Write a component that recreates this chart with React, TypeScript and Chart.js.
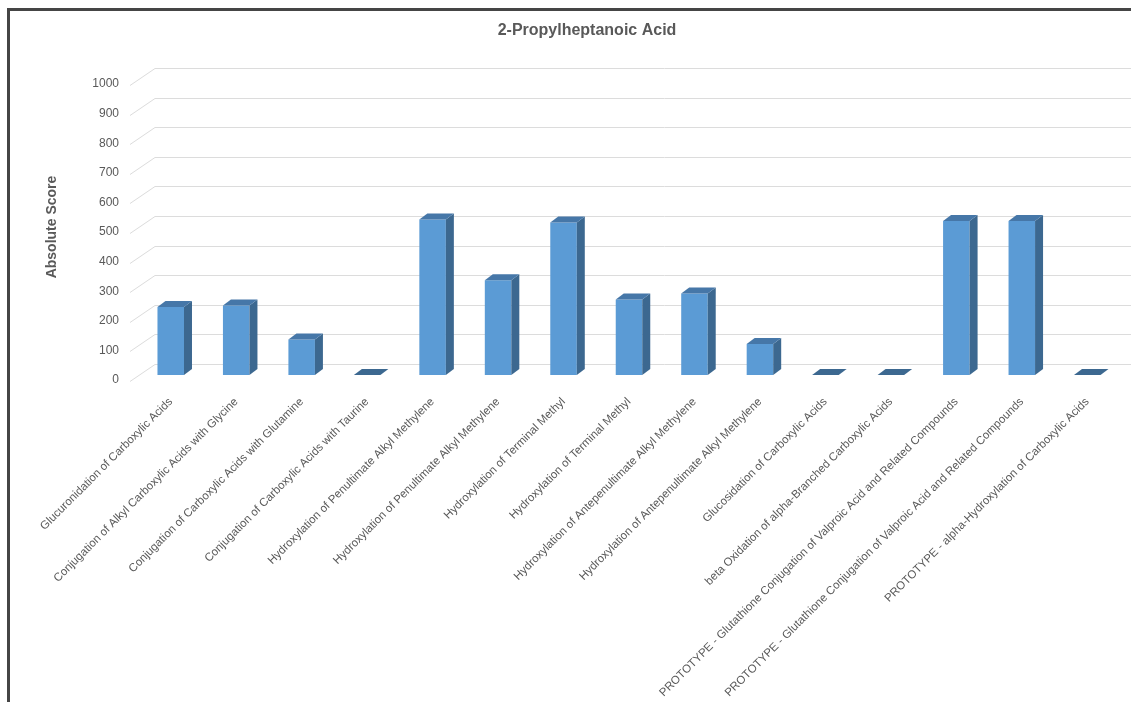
import { useEffect, useRef } from "react";
import { Chart, registerables } from "chart.js";

Chart.register(...registerables);

const chartTitle = "2-Propylheptanoic Acid";
const axisTitle = "Absolute Score";

const categories = [
  "Glucuronidation of Carboxylic Acids",
  "Conjugation of Alkyl Carboxylic Acids with Glycine",
  "Conjugation of Carboxylic Acids with Glutamine",
  "Conjugation of Carboxylic Acids with Taurine",
  "Hydroxylation of Penultimate Alkyl Methylene",
  "Hydroxylation of Penultimate Alkyl Methylene",
  "Hydroxylation of Terminal Methyl",
  "Hydroxylation of Terminal Methyl",
  "Hydroxylation of Antepenultimate Alkyl Methylene",
  "Hydroxylation of Antepenultimate Alkyl Methylene",
  "Glucosidation of Carboxylic Acids",
  "beta Oxidation of alpha-Branched Carboxylic Acids",
  "PROTOTYPE - Glutathione Conjugation of Valproic Acid and Related Compounds",
  "PROTOTYPE - Glutathione Conjugation of Valproic Acid and Related Compounds",
  "PROTOTYPE - alpha-Hydroxylation of Carboxylic Acids",
];

const scores = [230, 235, 120, 0, 525, 320, 515, 255, 275, 105, 0, 0, 520, 520, 0];

const scoreMin = 0;
const scoreMax = 1000;
const scoreStep = 100;

const CANVAS_W = 1174;
const CANVAS_H = 800;

// Pseudo-3D geometry: bar depth and back-wall offsets, in pixels
const DEPTH_X = 8;
const DEPTH_Y = 6;
const WALL_X = 17;
const WALL_Y = 11;
const FRONT_X = 8;
const FRONT_Y = 6;

const FRONT_COLOR = "#5b9bd5";
const SIDE_COLOR = "#3c6890";
const TOP_COLOR = "#4677a8";
const TEXT_COLOR = "#595959";
const FONT = "'Liberation Sans', Arial, sans-serif";

const frame = {
  id: "frame",
  beforeDraw(chart: any) {
    const { ctx } = chart;
    ctx.save();
    ctx.fillStyle = "#ffffff";
    ctx.fillRect(0, 0, chart.width, chart.height);
    ctx.fillStyle = "#454545";
    ctx.fillRect(7, 8, 3, chart.height);
    ctx.fillRect(7, 8, chart.width, 3);
    ctx.restore();
  },
};

const wall = {
  id: "wall",
  beforeDatasetsDraw(chart: any) {
    const { ctx, chartArea } = chart;
    const y = chart.scales.y;
    ctx.save();
    ctx.strokeStyle = "#dcdcdc";
    ctx.lineWidth = 1;
    for (const t of y.ticks) {
      const py = Math.round(y.getPixelForValue(t.value)) + 0.5;
      ctx.beginPath();
      ctx.moveTo(chartArea.left - FRONT_X, py + FRONT_Y);
      ctx.lineTo(chartArea.left + WALL_X, py - WALL_Y);
      ctx.lineTo(chart.width, py - WALL_Y);
      ctx.stroke();
    }
    ctx.restore();
  },
};

const columnDepth = {
  id: "columnDepth",
  afterDatasetsDraw(chart: any) {
    const { ctx } = chart;
    const meta = chart.getDatasetMeta(0);
    ctx.save();
    for (const bar of meta.data) {
      const { x, y, base, width } = bar.getProps(["x", "y", "base", "width"], true);
      const left = x - width / 2;
      const right = x + width / 2;
      // side face
      if (base - y > 0.5) {
        ctx.fillStyle = SIDE_COLOR;
        ctx.beginPath();
        ctx.moveTo(right, y);
        ctx.lineTo(right + DEPTH_X, y - DEPTH_Y);
        ctx.lineTo(right + DEPTH_X, base - DEPTH_Y);
        ctx.lineTo(right, base);
        ctx.closePath();
        ctx.fill();
      }
      // top face
      ctx.fillStyle = base - y > 0.5 ? TOP_COLOR : SIDE_COLOR;
      ctx.beginPath();
      ctx.moveTo(left, y);
      ctx.lineTo(left + DEPTH_X, y - DEPTH_Y);
      ctx.lineTo(right + DEPTH_X, y - DEPTH_Y);
      ctx.lineTo(right, y);
      ctx.closePath();
      ctx.fill();
    }
    ctx.restore();
  },
};

export default function App() {
  const canvasRef = useRef<HTMLCanvasElement | null>(null);

  useEffect(() => {
    if (!canvasRef.current) return;
    const chart = new Chart(canvasRef.current, {
      type: "bar",
      data: {
        labels: categories,
        datasets: [
          {
            label: axisTitle,
            data: scores,
            backgroundColor: FRONT_COLOR,
            borderWidth: 0,
            barPercentage: 0.405,
            categoryPercentage: 1,
          },
        ],
      },
      options: {
        responsive: false,
        animation: false,
        devicePixelRatio: 1,
        layout: { padding: { left: 0, right: 0, top: 0, bottom: 0 } },
        plugins: {
          legend: { display: false },
          tooltip: { enabled: false },
          title: {
            display: true,
            text: chartTitle,
            color: TEXT_COLOR,
            font: { family: FONT, size: 16, weight: "bold" },
            padding: { top: 21, bottom: 38.8 },
          },
        },
        scales: {
          x: {
            grid: { display: false },
            border: { display: false },
            ticks: {
              autoSkip: false,
              minRotation: 45,
              maxRotation: 45,
              padding: 12,
              color: TEXT_COLOR,
              font: { family: FONT, size: 11.5 },
            },
            afterFit(s: any) {
              s.height = CANVAS_H - 375;
            },
          },
          y: {
            min: scoreMin,
            max: scoreMax,
            grid: { display: false, drawTicks: false },
            border: { display: false },
            ticks: {
              stepSize: scoreStep,
              padding: 19,
              labelOffset: 5,
              color: TEXT_COLOR,
              font: { family: FONT, size: 12 },
              callback: (v: any) => String(v),
            },
            title: {
              display: true,
              text: axisTitle,
              color: TEXT_COLOR,
              font: { family: FONT, size: 14, weight: "bold" },
              padding: { top: 44, bottom: 0 },
            },
            afterFit(s: any) {
              s.width = 138;
            },
          },
          spacer: {
            type: "linear",
            position: "right",
            display: true,
            grid: { display: false, drawTicks: false },
            border: { display: false },
            ticks: { display: false },
            afterFit(s: any) {
              s.width = 54;
            },
          },
        },
      },
      plugins: [frame, wall, columnDepth],
    } as any);
    return () => chart.destroy();
  }, []);

  return (
    <div
      style={{
        position: "fixed",
        left: 0,
        top: 0,
        width: 1131,
        height: 702,
        overflow: "hidden",
        background: "#ffffff",
      }}
    >
      <canvas ref={canvasRef} width={CANVAS_W} height={CANVAS_H} style={{ display: "block" }} />
    </div>
  );
}
